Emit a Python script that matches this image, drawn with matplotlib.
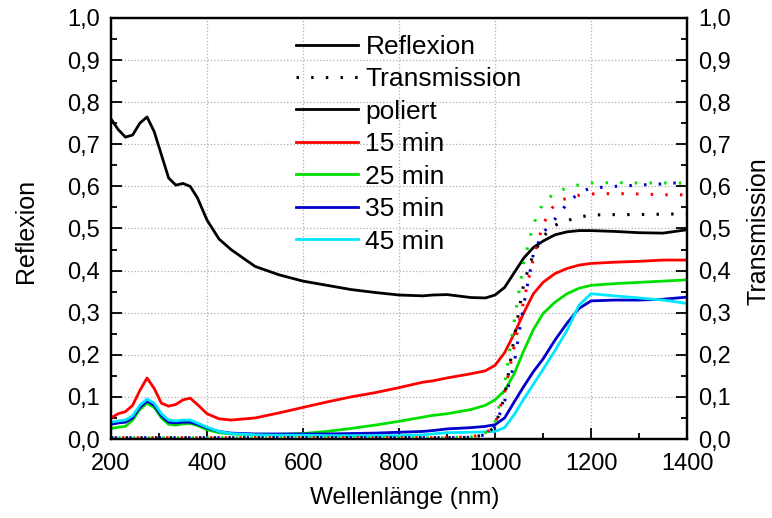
import matplotlib.pyplot as plt
from matplotlib.lines import Line2D
from matplotlib.ticker import MultipleLocator, FuncFormatter

plt.rcParams['font.family'] = ['Liberation Sans', 'DejaVu Sans']

# Reflexion (durchgezogen)
wl_r = [200, 215, 230, 245, 260, 275, 290, 305, 320, 335, 350, 365, 380, 400,
        425, 450, 500, 550, 600, 650, 700, 750, 800, 850, 870, 900, 950, 980,
        1000, 1020, 1040, 1060, 1080, 1100, 1125, 1150, 1175, 1200, 1250, 1300,
        1350, 1400]
r_poliert = [0.76, 0.735, 0.717, 0.722, 0.75, 0.765, 0.73, 0.675, 0.62, 0.603,
             0.607, 0.6, 0.573, 0.52, 0.475, 0.45, 0.41, 0.39, 0.375, 0.365,
             0.355, 0.348, 0.342, 0.34, 0.342, 0.343, 0.336, 0.335, 0.342, 0.36,
             0.395, 0.43, 0.455, 0.47, 0.485, 0.492, 0.495, 0.495, 0.493, 0.49,
             0.489, 0.497]
r_15 = [0.05, 0.06, 0.065, 0.08, 0.115, 0.145, 0.12, 0.085, 0.078, 0.082, 0.093,
        0.097, 0.082, 0.06, 0.048, 0.045, 0.05, 0.062, 0.075, 0.088, 0.1, 0.11,
        0.122, 0.135, 0.138, 0.145, 0.155, 0.162, 0.175, 0.205, 0.25, 0.3, 0.345,
        0.372, 0.393, 0.405, 0.413, 0.417, 0.42, 0.422, 0.425, 0.425]
r_25 = [0.025, 0.028, 0.03, 0.045, 0.07, 0.085, 0.075, 0.05, 0.035, 0.033, 0.036,
        0.037, 0.032, 0.022, 0.015, 0.012, 0.01, 0.011, 0.013, 0.018, 0.025,
        0.033, 0.042, 0.052, 0.056, 0.06, 0.07, 0.08, 0.093, 0.115, 0.155, 0.21,
        0.26, 0.298, 0.325, 0.345, 0.358, 0.365, 0.369, 0.372, 0.375, 0.378]
r_35 = [0.035, 0.038, 0.04, 0.05, 0.075, 0.09, 0.08, 0.055, 0.04, 0.038, 0.04,
        0.04, 0.035, 0.026, 0.018, 0.014, 0.012, 0.012, 0.012, 0.012, 0.013,
        0.014, 0.016, 0.018, 0.02, 0.024, 0.027, 0.03, 0.034, 0.05, 0.088, 0.125,
        0.16, 0.19, 0.235, 0.275, 0.31, 0.328, 0.33, 0.33, 0.332, 0.337]
r_45 = [0.04, 0.043, 0.045, 0.055, 0.08, 0.095, 0.085, 0.06, 0.045, 0.043, 0.045,
        0.045, 0.038, 0.028, 0.018, 0.013, 0.01, 0.009, 0.009, 0.008, 0.008,
        0.008, 0.008, 0.01, 0.012, 0.015, 0.016, 0.017, 0.018, 0.027, 0.058,
        0.095, 0.13, 0.165, 0.21, 0.258, 0.318, 0.345, 0.34, 0.335, 0.33, 0.322]

# Transmission (gepunktet)
wl_t = [200, 300, 400, 500, 600, 700, 800, 850, 900, 950, 980, 1000, 1020, 1040,
        1060, 1080, 1100, 1120, 1140, 1160, 1180, 1200, 1250, 1300, 1350, 1400]
t_poliert = [0.003, 0.003, 0.003, 0.003, 0.003, 0.003, 0.003, 0.003, 0.003,
             0.004, 0.01, 0.03, 0.1, 0.24, 0.37, 0.44, 0.48, 0.505, 0.515, 0.522,
             0.528, 0.532, 0.533, 0.533, 0.534, 0.535]
t_15 = [0.003, 0.003, 0.003, 0.003, 0.003, 0.003, 0.003, 0.003, 0.003, 0.005,
        0.012, 0.035, 0.11, 0.22, 0.33, 0.43, 0.51, 0.55, 0.568, 0.576, 0.58,
        0.582, 0.583, 0.582, 0.58, 0.58]
t_25 = [0.003, 0.003, 0.003, 0.003, 0.003, 0.003, 0.003, 0.003, 0.003, 0.005,
        0.015, 0.04, 0.13, 0.28, 0.42, 0.51, 0.56, 0.58, 0.592, 0.6, 0.605,
        0.608, 0.609, 0.608, 0.608, 0.608]
t_35 = [0.003, 0.003, 0.003, 0.003, 0.003, 0.003, 0.003, 0.003, 0.003, 0.004,
        0.01, 0.03, 0.09, 0.18, 0.32, 0.44, 0.49, 0.515, 0.545, 0.57, 0.588,
        0.596, 0.6, 0.603, 0.606, 0.61]

labels = ['poliert', '15 min', '25 min', '35 min', '45 min']
colors = ['black', '#ff0000', '#00e000', '#0000cc', '#00e8ff']

fig = plt.figure(figsize=(7.72, 5.18), dpi=100)
ax = fig.add_axes([0.1438, 0.1525, 0.7461, 0.8128])
ax2 = ax.twinx()

for y, c in zip([r_poliert, r_15, r_25, r_35, r_45], colors):
    ax.plot(wl_r, y, color=c, lw=2)

# Punktmuster leicht versetzt, damit sich die Nulllinien abwechseln
for i, (y, c) in enumerate(zip([t_poliert, t_15, t_25, t_35], colors)):
    ax2.plot(wl_t, y, color=c, lw=2.2, linestyle=(i * 1.2, (0.8, 4.0)))

comma = FuncFormatter(lambda v, p: f'{v:.1f}'.replace('.', ','))
for a in (ax, ax2):
    a.set_ylim(0, 1)
    a.yaxis.set_major_locator(MultipleLocator(0.1))
    a.yaxis.set_minor_locator(MultipleLocator(0.05))
    a.yaxis.set_major_formatter(comma)
    a.tick_params(which='both', direction='in', labelsize=17, width=1.3)
    a.tick_params(which='major', length=8, pad=8)
    a.tick_params(which='minor', length=4)
    for s in a.spines.values():
        s.set_linewidth(1.6)
ax.set_xlim(200, 1400)
ax.xaxis.set_major_locator(MultipleLocator(200))
ax.xaxis.set_minor_locator(MultipleLocator(100))
ax.tick_params(top=False)
ax.tick_params(axis='x', which='major', pad=10)

ax.grid(True, which='major', linestyle=':', color='#b0b0b0', lw=0.9)

ax.set_xlabel('Wellenlänge (nm)', fontsize=17.5)
ax.set_ylabel('Reflexion', fontsize=18)
ax2.set_ylabel('Transmission', fontsize=18)
ax.xaxis.set_label_coords(0.51, -0.114)
ax.yaxis.set_label_coords(-0.127, 0.494)
ax2.yaxis.set_label_coords(1.104, 0.494)

handles = [Line2D([], [], color='black', lw=2),
           Line2D([], [], color='black', lw=2.2, linestyle=(0, (0.8, 4.0)))]
handles += [Line2D([], [], color=c, lw=2) for c in colors]
ax.legend(handles, ['Reflexion', 'Transmission'] + labels,
          loc='upper left', bbox_to_anchor=(0.302, 0.985), frameon=False,
          fontsize=19, handlelength=2.35, handletextpad=0.3,
          labelspacing=0.32, borderaxespad=0)

fig.savefig('out.png', dpi=100)
